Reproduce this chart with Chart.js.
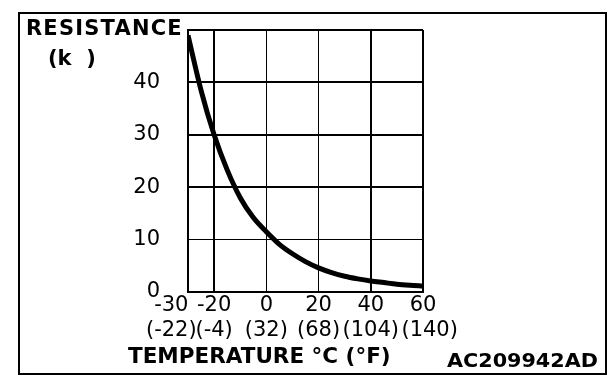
<!DOCTYPE html>
<html>
<head>
<meta charset="utf-8">
<script src="https://cdn.jsdelivr.net/npm/chart.js@4.4.0/dist/chart.umd.min.js"></script>
<style>
  body { margin: 0; background: #fff; }
  #wrap { position: relative; width: 608px; height: 384px; overflow: hidden; }
  #frame { position: absolute; left: 18px; top: 12px; width: 585px; height: 359px; border: 2px solid #000; }
  canvas { position: absolute; left: 0; top: 0; }
  .lbl { position: absolute; font-family: "DejaVu Sans", sans-serif; font-weight: bold; line-height: 1; white-space: pre; color: #000; }
</style>
</head>
<body>
<div id="wrap">
  <div id="frame"></div>
  <canvas id="chart" width="608" height="384"></canvas>
  <div class="lbl" style="left:26px;top:18px;font-size:21px;letter-spacing:1.2px">RESISTANCE</div>
  <div class="lbl" style="left:48px;top:48px;font-size:21px">(k  )</div>
  <div class="lbl" style="left:128px;top:345px;font-size:21.5px">TEMPERATURE °C (°F)</div>
  <div class="lbl" style="left:447px;top:351px;font-size:19px;transform:scaleX(1.09);transform-origin:left top">AC209942AD</div>
</div>
<script>
// temperature (°C) vs sensor resistance (kΩ)
const tempC = [-30, -25, -20, -15, -10, -5, 0, 5, 10, 15, 20, 25, 30, 35, 40, 45, 50, 55, 60];
const resistance = [49, 38.5, 30, 23.3, 18, 14.2, 11.5, 9.1, 7.3, 5.8, 4.6, 3.7, 3.0, 2.5, 2.1, 1.8, 1.5, 1.3, 1.15];

const xTicks = [-30, -20, 0, 20, 40, 60];
const fahrenheitLabels = ['(-22)', '(-4)', '(32)', '(68)', '(104)', '(140)'];
const yTicks = [0, 10, 20, 30, 40, 50];

const points = tempC.map((t, i) => ({ x: t, y: resistance[i] }));

const chartData = {
  datasets: [{
    data: points,
    borderColor: '#000',
    borderWidth: 5,
    pointRadius: 0,
    fill: false,
    cubicInterpolationMode: 'monotone'
  }]
};

const tickFont = { family: 'DejaVu Sans', size: 21, lineHeight: 1.2 };

const options = {
  responsive: false,
  animation: false,
  layout: { padding: { left: 0, top: 30, right: 185, bottom: 0 } },
  plugins: { legend: { display: false }, tooltip: { enabled: false } },
  scales: {
    x: {
      type: 'linear',
      min: -30,
      max: 60,
      afterBuildTicks: s => { s.ticks = xTicks.map(v => ({ value: v })); },
      afterFit: s => { s.height = 92; s.paddingLeft = 0; s.paddingRight = 0; },
      border: { color: '#000', width: 2 },
      grid: {
        color: '#000',
        drawTicks: false,
        lineWidth: c => ([-30, -20, 40, 60].includes(c.tick.value) ? 2 : 1)
      },
      ticks: {
        color: '#000',
        font: tickFont,
        padding: 1,
        maxRotation: 0,
        autoSkip: false,
        callback: (v) => {
          const i = xTicks.indexOf(v);
          // first column sits left of the axis corner, last one nudged right
          if (i === 0) return [v + '     ', fahrenheitLabels[i] + '     '];
          if (i === xTicks.length - 1) return [String(v), '  ' + fahrenheitLabels[i]];
          return [String(v), fahrenheitLabels[i]];
        }
      }
    },
    y: {
      min: 0,
      max: 50,
      afterBuildTicks: s => { s.ticks = yTicks.map(v => ({ value: v })); },
      afterFit: s => { s.width = 188; s.paddingTop = 0; s.paddingBottom = 0; },
      border: { color: '#000', width: 2 },
      grid: {
        color: '#000',
        drawTicks: false,
        lineWidth: c => (c.tick.value === 10 ? 1 : 2)
      },
      ticks: {
        color: '#000',
        font: tickFont,
        padding: 28,
        callback: v => (v === 50 ? '' : v)
      }
    }
  }
};

const config = {
  type: 'line',
  data: chartData,
  options: options
};

new Chart(document.getElementById('chart').getContext('2d'), config);
</script>
</body>
</html>
